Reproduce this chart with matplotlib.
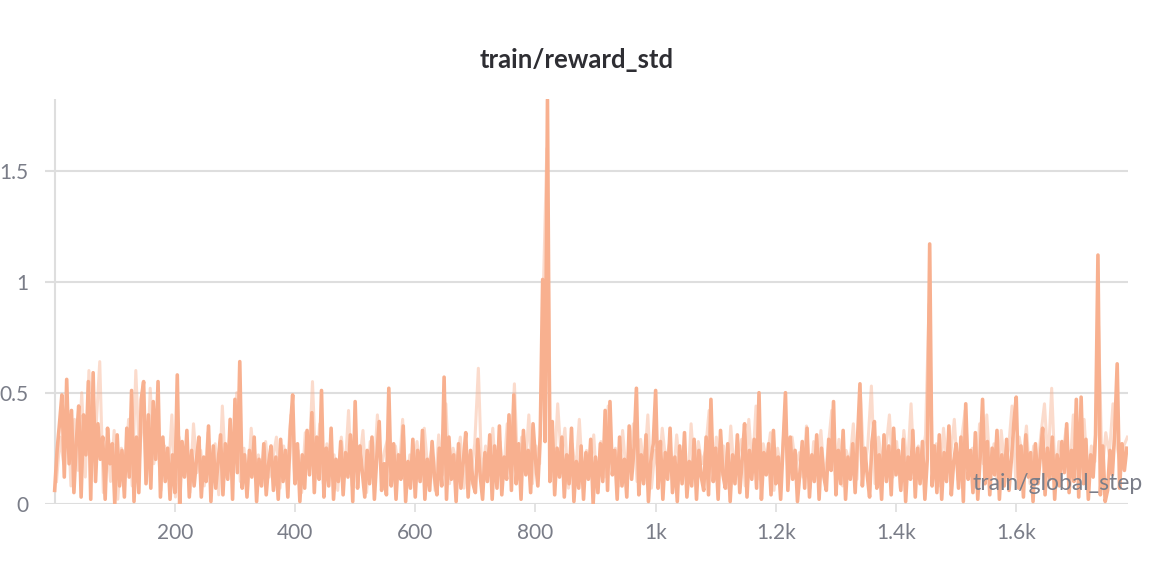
import numpy as np
import matplotlib.pyplot as plt

plt.rcParams['font.family'] = ['Lato', 'DejaVu Sans']

# smoothed series, one value every 4 steps starting at step 0
reward_std = [
    0.06, 0.24, 0.36, 0.49, 0.12, 0.56, 0.18, 0.42, 0.05, 0.28,
    0.44, 0.03, 0.40, 0.22, 0.55, 0.02, 0.59, 0.10, 0.36, 0.20,
    0.30, 0.02, 0.34, 0.18, 0.27, 0.00, 0.31, 0.08, 0.24, 0.03,
    0.34, 0.12, 0.51, 0.01, 0.30, 0.05, 0.47, 0.55, 0.09, 0.40,
    0.07, 0.46, 0.20, 0.55, 0.03, 0.30, 0.10, 0.25, 0.02, 0.22,
    0.05, 0.58, 0.00, 0.28, 0.12, 0.33, 0.03, 0.24, 0.08, 0.20,
    0.30, 0.03, 0.21, 0.10, 0.35, 0.01, 0.26, 0.07, 0.19, 0.31,
    0.04, 0.27, 0.11, 0.38, 0.02, 0.47, 0.14, 0.64, 0.07, 0.22,
    0.03, 0.24, 0.12, 0.30, 0.01, 0.20, 0.08, 0.27, 0.04, 0.18,
    0.26, 0.06, 0.21, 0.02, 0.29, 0.10, 0.24, 0.03, 0.33, 0.49,
    0.09, 0.27, 0.01, 0.22, 0.07, 0.33, 0.13, 0.41, 0.05, 0.30,
    0.11, 0.51, 0.03, 0.25, 0.08, 0.34, 0.02, 0.20, 0.10, 0.28,
    0.04, 0.23, 0.12, 0.31, 0.01, 0.46, 0.07, 0.26, 0.14, 0.03,
    0.24, 0.09, 0.30, 0.02, 0.21, 0.37, 0.06, 0.18, 0.04, 0.52,
    0.08, 0.27, 0.02, 0.22, 0.11, 0.35, 0.01, 0.19, 0.07, 0.29,
    0.03, 0.24, 0.10, 0.33, 0.02, 0.20, 0.06, 0.28, 0.12, 0.04,
    0.25, 0.08, 0.57, 0.02, 0.30, 0.11, 0.22, 0.01, 0.27, 0.07,
    0.19, 0.32, 0.03, 0.24, 0.09, 0.05, 0.29, 0.13, 0.02, 0.23,
    0.10, 0.31, 0.02, 0.26, 0.07, 0.35, 0.04, 0.21, 0.11, 0.40,
    0.06, 0.49, 0.09, 0.27, 0.02, 0.33, 0.13, 0.24, 0.05, 0.36,
    0.20, 0.08, 0.31, 1.01, 0.28, 1.82, 0.10, 0.37, 0.04, 0.25,
    0.12, 0.30, 0.03, 0.22, 0.09, 0.34, 0.01, 0.19, 0.07, 0.26,
    0.02, 0.23, 0.11, 0.29, 0.00, 0.21, 0.05, 0.27, 0.10, 0.42,
    0.06, 0.46, 0.13, 0.24, 0.02, 0.30, 0.08, 0.20, 0.03, 0.35,
    0.11, 0.25, 0.52, 0.04, 0.22, 0.09, 0.31, 0.01, 0.19, 0.27,
    0.51, 0.07, 0.28, 0.02, 0.23, 0.11, 0.34, 0.05, 0.21, 0.01,
    0.26, 0.09, 0.32, 0.03, 0.19, 0.08, 0.29, 0.02, 0.24, 0.12,
    0.06, 0.30, 0.04, 0.47, 0.10, 0.25, 0.02, 0.33, 0.13, 0.07,
    0.27, 0.01, 0.22, 0.09, 0.31, 0.05, 0.20, 0.36, 0.03, 0.24,
    0.11, 0.29, 0.07, 0.50, 0.02, 0.23, 0.13, 0.27, 0.04, 0.33,
    0.09, 0.21, 0.02, 0.26, 0.50, 0.06, 0.30, 0.11, 0.24, 0.01,
    0.14, 0.28, 0.07, 0.34, 0.03, 0.22, 0.10, 0.31, 0.02, 0.25,
    0.12, 0.06, 0.29, 0.15, 0.46, 0.04, 0.24, 0.09, 0.33, 0.02,
    0.21, 0.11, 0.27, 0.05, 0.30, 0.54, 0.08, 0.25, 0.13, 0.03,
    0.28, 0.37, 0.07, 0.22, 0.02, 0.31, 0.10, 0.26, 0.04, 0.34,
    0.13, 0.24, 0.06, 0.29, 0.01, 0.21, 0.11, 0.33, 0.03, 0.25,
    0.09, 0.28, 0.02, 0.20, 1.17, 0.08, 0.26, 0.05, 0.31, 0.02,
    0.23, 0.10, 0.35, 0.04, 0.19, 0.27, 0.07, 0.30, 0.01, 0.45,
    0.11, 0.24, 0.05, 0.32, 0.02, 0.21, 0.47, 0.09, 0.28, 0.04,
    0.25, 0.13, 0.33, 0.02, 0.22, 0.08, 0.29, 0.06, 0.20, 0.36,
    0.48, 0.07, 0.26, 0.03, 0.31, 0.12, 0.23, 0.01, 0.27, 0.09,
    0.21, 0.34, 0.04, 0.25, 0.11, 0.30, 0.02, 0.22, 0.08, 0.28,
    0.14, 0.36, 0.05, 0.24, 0.10, 0.47, 0.03, 0.48, 0.09, 0.29,
    0.02, 0.22, 0.12, 0.31, 1.12, 0.04, 0.26, 0.01, 0.06, 0.24,
    0.13, 0.33, 0.63, 0.07, 0.27, 0.15, 0.25,
]

# raw series (faint), one value every 6 steps starting at step 3
reward_std_raw = [
    0.10, 0.30, 0.18, 0.45, 0.08, 0.38, 0.15, 0.50, 0.12, 0.60,
    0.20, 0.35, 0.64, 0.05, 0.28, 0.10, 0.33, 0.02, 0.25, 0.14,
    0.38, 0.08, 0.60, 0.20, 0.44, 0.10, 0.52, 0.18, 0.30, 0.06,
    0.26, 0.12, 0.40, 0.03, 0.30, 0.15, 0.22, 0.05, 0.36, 0.14,
    0.24, 0.08, 0.32, 0.16, 0.27, 0.04, 0.44, 0.12, 0.30, 0.18,
    0.50, 0.10, 0.25, 0.06, 0.34, 0.14, 0.22, 0.08, 0.28, 0.12,
    0.20, 0.30, 0.07, 0.26, 0.16, 0.40, 0.10, 0.24, 0.05, 0.32,
    0.18, 0.55, 0.12, 0.36, 0.09, 0.27, 0.15, 0.22, 0.06, 0.30,
    0.14, 0.42, 0.08, 0.25, 0.18, 0.33, 0.05, 0.28, 0.12, 0.40,
    0.16, 0.24, 0.30, 0.09, 0.26, 0.14, 0.38, 0.07, 0.22, 0.17,
    0.28, 0.10, 0.34, 0.15, 0.24, 0.06, 0.31, 0.13, 0.45, 0.09,
    0.25, 0.18, 0.30, 0.07, 0.22, 0.14, 0.27, 0.61, 0.10, 0.26,
    0.16, 0.34, 0.08, 0.28, 0.13, 0.36, 0.20, 0.54, 0.11, 0.30,
    0.15, 0.40, 0.09, 0.26, 0.18, 0.95, 1.60, 0.30, 0.12, 0.45,
    0.20, 0.34, 0.07, 0.27, 0.14, 0.38, 0.10, 0.24, 0.16, 0.31,
    0.05, 0.28, 0.12, 0.44, 0.18, 0.25, 0.08, 0.33, 0.14, 0.22,
    0.36, 0.10, 0.29, 0.16, 0.40, 0.07, 0.24, 0.13, 0.34, 0.19,
    0.27, 0.09, 0.31, 0.15, 0.22, 0.06, 0.36, 0.12, 0.28, 0.18,
    0.24, 0.42, 0.10, 0.30, 0.16, 0.26, 0.07, 0.35, 0.13, 0.21,
    0.29, 0.08, 0.38, 0.15, 0.44, 0.11, 0.27, 0.19, 0.32, 0.06,
    0.25, 0.14, 0.40, 0.09, 0.30, 0.17, 0.23, 0.12, 0.35, 0.07,
    0.28, 0.16, 0.33, 0.10, 0.25, 0.42, 0.13, 0.29, 0.08, 0.24,
    0.18, 0.36, 0.11, 0.48, 0.15, 0.26, 0.53, 0.09, 0.30, 0.17,
    0.24, 0.40, 0.12, 0.28, 0.07, 0.33, 0.16, 0.45, 0.10, 0.26,
    0.19, 0.31, 0.90, 0.14, 0.27, 0.08, 0.34, 0.17, 0.22, 0.38,
    0.11, 0.29, 0.42, 0.15, 0.25, 0.09, 0.36, 0.18, 0.40, 0.13,
    0.27, 0.07, 0.33, 0.16, 0.24, 0.44, 0.12, 0.30, 0.20, 0.35,
    0.09, 0.26, 0.15, 0.31, 0.45, 0.18, 0.52, 0.11, 0.28, 0.21,
    0.34, 0.13, 0.40, 0.16, 0.29, 0.38, 0.10, 0.26, 0.19, 0.80,
    0.14, 0.32, 0.22, 0.45, 0.27, 0.18, 0.26, 0.30,
]

steps = np.arange(len(reward_std)) * 4
steps_raw = 3 + np.arange(len(reward_std_raw)) * 6

xticks = [200, 400, 600, 800, 1000, 1200, 1400, 1600]
xtick_labels = ['200', '400', '600', '800', '1k', '1.2k', '1.4k', '1.6k']
yticks = [0, 0.5, 1, 1.5]
ytick_labels = ['0', '0.5', '1', '1.5']

line_color = '#f8b08f'
grid_color = '#dedede'
text_gray = '#7a7d88'

fig = plt.figure(figsize=(11.52, 5.68), dpi=100)
ax = fig.add_axes([45 / 1152, 1 - 503.7 / 568, (1128 - 45) / 1152, (503.7 - 99) / 568])

for y in yticks:
    ax.axhline(y, color=grid_color, lw=1.5, zorder=0)
ax.axvline(0, color=grid_color, lw=1.5, zorder=0)

ax.plot(steps_raw, reward_std_raw, color=line_color, lw=2.2, alpha=0.45, zorder=2)
ax.plot(steps, reward_std, color=line_color, lw=2.6, zorder=3)

ax.set_xlim(-16.1, 1786)
ax.set_ylim(0, 1.823)

for s in ax.spines.values():
    s.set_visible(False)

ax.set_xticks(xticks)
ax.set_xticklabels(xtick_labels)
ax.set_yticks(yticks)
ax.set_yticklabels(ytick_labels)
ax.tick_params(axis='x', length=6, width=1.2, color=grid_color, labelcolor=text_gray,
               labelsize=15, pad=8)
ax.tick_params(axis='y', length=0, labelcolor=text_gray, labelsize=15, pad=12)

ax.text(1143 / 1152, 1 - 483 / 568, 'train/global_step', transform=fig.transFigure,
        ha='right', va='center', fontsize=16.5, color=text_gray, zorder=5)
fig.text(577 / 1152, 1 - 60 / 568, 'train/reward_std', ha='center', va='center',
         fontsize=18.5, fontweight='bold', color='#2e2e33')

fig.savefig('out.png', dpi=100)
